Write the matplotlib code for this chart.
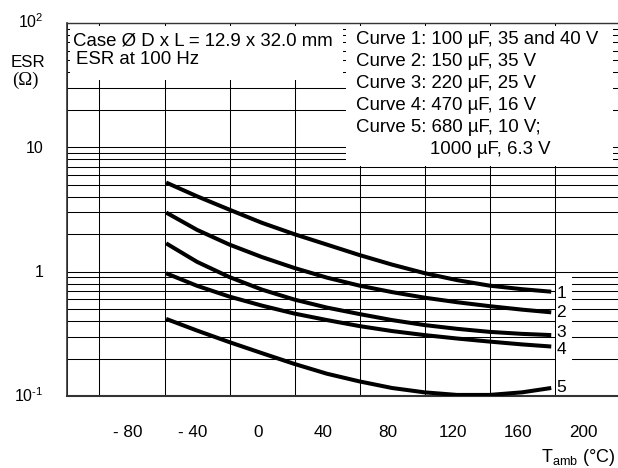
import matplotlib
matplotlib.use('Agg')
import matplotlib.pyplot as plt
import matplotlib.transforms as mtransforms
from matplotlib.patches import Rectangle
import warnings
warnings.filterwarnings('ignore')

plt.rcParams['font.family'] = ['Liberation Sans', 'DejaVu Sans']
plt.rcParams['mathtext.fontset'] = 'custom'
plt.rcParams['mathtext.rm'] = 'Liberation Sans'
plt.rcParams['mathtext.it'] = 'Liberation Sans:italic'
plt.rcParams['mathtext.bf'] = 'Liberation Sans:bold'

# ---------------- data ----------------
temps = [-59, -40, -20, 0, 20, 40, 60, 80, 100, 120, 140, 160, 178]
esr_curve1 = [5.21, 4.04, 3.15, 2.47, 2.00, 1.65, 1.36, 1.14, 0.973, 0.855, 0.772, 0.723, 0.69]
esr_curve2 = [2.99, 2.17, 1.65, 1.31, 1.07, 0.895, 0.772, 0.685, 0.618, 0.568, 0.528, 0.495, 0.471]
esr_curve3 = [1.69, 1.20, 0.904, 0.717, 0.596, 0.514, 0.456, 0.408, 0.372, 0.347, 0.328, 0.316, 0.309]
esr_curve4 = [0.97, 0.77, 0.63, 0.533, 0.46, 0.408, 0.365, 0.333, 0.309, 0.290, 0.274, 0.260, 0.250]
esr_curve5 = [0.417, 0.336, 0.271, 0.221, 0.181, 0.151, 0.131, 0.116, 0.107, 0.102, 0.102, 0.107, 0.116]
curves = [esr_curve1, esr_curve2, esr_curve3, esr_curve4, esr_curve5]
curve_labels = ['1', '2', '3', '4', '5']

xtick_values = [-80, -40, 0, 40, 80, 120, 160, 200]
xtick_labels = ['- 80', '- 40', '0', '40', '80', '120', '160', '200']
ytick_values = [0.1, 1, 10, 100]
ytick_labels = [r'$\mathregular{10^{\text{-}1}}$', '1', '10', r'$\mathregular{10^{2}}$']

case_lines = ['Case \u00d8 D x L = 12.9 x 32.0 mm', 'ESR at 100 Hz']
legend_lines = ['Curve 1: 100 \u00b5F, 35 and 40 V',
                'Curve 2: 150 \u00b5F, 35 V',
                'Curve 3: 220 \u00b5F, 25 V',
                'Curve 4: 470 \u00b5F, 16 V',
                'Curve 5: 680 \u00b5F, 10 V;',
                '1000 \u00b5F, 6.3 V']

# ---------------- figure ----------------
W, H = 618, 468
fig = plt.figure(figsize=(W / 100, H / 100), dpi=100)
fig.patch.set_facecolor('white')

def fx(px):
    return px / W

def fy(py):
    return 1 - py / H

ax_left, ax_top, ax_bottom = 67, 23, 396
ax_w = 552.5
ax = fig.add_axes([fx(ax_left), fy(ax_bottom), ax_w / W, (ax_bottom - ax_top) / H])
ax.set_yscale('log')
ax.set_xlim(-120, 220)
ax.set_ylim(0.1, 100)
ax.set_axisbelow(True)

# grid
ax.set_xticks(xtick_values)
ax.set_xticklabels(xtick_labels)
ax.set_xticks(list(range(-120, 221, 20)), minor=True)
ax.set_yticks(ytick_values)
ax.set_yticklabels(ytick_labels)
yminor = [m * 10.0 ** e for e in (-1, 0, 1) for m in range(2, 10)]
ax.set_yticks(yminor, minor=True)
ax.yaxis.set_minor_formatter(matplotlib.ticker.NullFormatter())
gcol = '#000000'
ax.grid(True, which='both', axis='both', color=gcol, lw=0.75)
ax.xaxis.grid(False, which='major')
ax.tick_params(which='both', length=0)
ax.tick_params(axis='x', pad=21, labelsize=12.3)
ax.tick_params(axis='y', pad=17, labelsize=11.5)

# shift tick labels
for lab in ax.get_xticklabels():
    lab.set_transform(lab.get_transform() + mtransforms.ScaledTranslation(-4 / 100, 0, fig.dpi_scale_trans))
for lab in ax.get_yticklabels():
    lab.set_verticalalignment('baseline')
    lab.set_transform(lab.get_transform() + mtransforms.ScaledTranslation(0, -5.5 / 100, fig.dpi_scale_trans))

for s in ['left', 'bottom', 'top', 'right']:
    ax.spines[s].set_color('#333333')
ax.spines['top'].set_linewidth(1.0)
ax.spines['left'].set_linewidth(1.2)
ax.spines['bottom'].set_linewidth(1.5)
ax.spines['right'].set_visible(False)

# white boxes (inset so that gridline stubs remain visible)
def px_box(x0, y0, x1, y1):
    bx0 = (x0 - ax_left) / ax_w
    bx1 = (x1 - ax_left) / ax_w
    by0 = (ax_bottom - y1) / (ax_bottom - ax_top)
    by1 = (ax_bottom - y0) / (ax_bottom - ax_top)
    r = Rectangle((bx0, by0), bx1 - bx0, by1 - by0, transform=ax.transAxes,
                  facecolor='white', edgecolor='none', zorder=1)
    ax.add_patch(r)

px_box(70, 26, 343, 80)
px_box(346, 26, 613, 166)
px_box(556, 276, 572, 395)

# curves
for vals in curves:
    ax.plot(temps, vals, color='black', lw=2.9, solid_capstyle='butt',
            solid_joinstyle='round', zorder=3)

label_shift = [2, 0, -3, 3, 0]
for vals, lab, sh in zip(curves, curve_labels, label_shift):
    off = mtransforms.ScaledTranslation(5 / 100, -sh / 100, fig.dpi_scale_trans)
    ax.text(temps[-1], vals[-1], lab, transform=ax.transData + off,
            ha='left', va='center', fontsize=12.5, zorder=4)

# box texts
fs_box = 13.4
fig.text(fx(73), fy(45), case_lines[0], fontsize=fs_box, va='baseline', ha='left')
fig.text(fx(76), fy(64.5), case_lines[1], fontsize=fs_box, va='baseline', ha='left')
base_y = [44, 66, 88, 110.5, 132.5, 154.5]
for i, line in enumerate(legend_lines):
    x = 356 if i < 5 else 430
    fig.text(fx(x), fy(base_y[i]), line, fontsize=fs_box, va='baseline', ha='left')

# axis titles
fig.text(fx(28), fy(67), 'ESR', fontsize=12.2, ha='center', va='baseline')
fig.text(fx(25), fy(85), '(\u03a9)', fontsize=13.5, ha='center', va='baseline',
         family=['Liberation Serif', 'DejaVu Serif'])
fig.text(fx(615), fy(462), r'$\mathregular{T_{amb}}$' + ' (\u00b0C)', fontsize=13,
         ha='right', va='baseline')

fig.savefig('out.png', dpi=100, facecolor='white')
